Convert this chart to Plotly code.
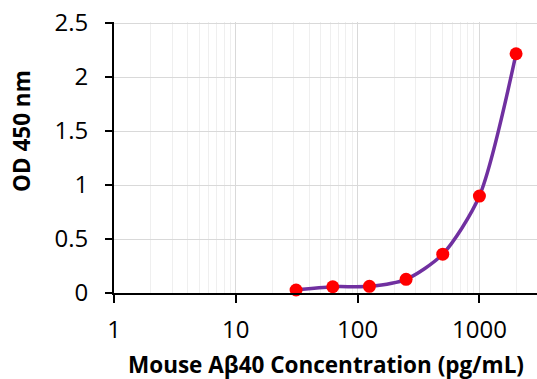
import plotly.graph_objects as go
import math

concentration = [31.25, 62.5, 125, 250, 500, 1000, 2000]
od450 = [0.028, 0.058, 0.062, 0.127, 0.36, 0.898, 2.216]

x_ticks = [1, 10, 100, 1000]
x_ticklabels = ["1", "10", "100", "1000"]
y_ticks = [0, 0.5, 1, 1.5, 2, 2.5]
y_ticklabels = ["0", "0.5", "1", "1.5", "2", "2.5"]

FONT = "Open Sans"
W, H = 537, 379
ML, MR, MT, MB = 114, 0, 22, 86
PH = H - MT - MB
PW = W - ML - MR
Y_TOP = 2.51

fig = go.Figure()
fig.add_trace(go.Scatter(
    x=concentration, y=od450, mode="lines",
    line=dict(color="#7030A0", width=3.5, shape="spline", smoothing=0.75),
    hoverinfo="skip", showlegend=False,
))
fig.add_trace(go.Scatter(
    x=concentration, y=od450, mode="markers",
    marker=dict(color="#FF0000", size=13, line=dict(width=0)),
    showlegend=False, cliponaxis=False,
))

fig.update_layout(
    width=W, height=H,
    margin=dict(l=ML, r=MR, t=MT, b=MB, autoexpand=False),
    paper_bgcolor="white", plot_bgcolor="white",
    font=dict(family=FONT, color="black"),
    xaxis=dict(
        type="log", range=[0, math.log10(2970)],
        tickvals=x_ticks, ticktext=x_ticklabels,
        tickfont=dict(size=24, family=FONT, color="black"),
        showgrid=True, gridcolor="#d9d9d9", gridwidth=1,
        minor=dict(dtick="D1", showgrid=True, gridcolor="#efefef", gridwidth=1, ticks=""),
        showline=True, linecolor="black", linewidth=2,
        ticks="outside", ticklen=8, tickwidth=2, tickcolor="black",
        ticklabelstandoff=6,
        zeroline=False, automargin=False,
    ),
    yaxis=dict(
        range=[0, Y_TOP],
        tickvals=y_ticks, ticktext=y_ticklabels,
        tickfont=dict(size=24, family=FONT, color="black"),
        showgrid=True, gridcolor="#d9d9d9", gridwidth=1,
        showline=True, linecolor="black", linewidth=2,
        ticks="outside", ticklen=7, tickwidth=2, tickcolor="black",
        ticklabelstandoff=12,
        zeroline=False, automargin=False,
    ),
    annotations=[
        dict(text="<b>Mouse Aβ40 Concentration (pg/mL)</b>", xref="paper", yref="paper",
             x=0.5, y=-(364 - 293) / PH, xanchor="center", yanchor="middle",
             showarrow=False, font=dict(size=22.5, family=FONT, color="black")),
        dict(text="<b>OD 450 nm</b>", xref="paper", yref="paper", textangle=-90,
             x=-(114 - 21) / PW, y=(293 - 131) / PH,
             xanchor="center", yanchor="middle",
             showarrow=False, font=dict(size=22.5, family=FONT, color="black")),
    ],
)

fig.write_html(
    "out.html",
    config={"displayModeBar": False},
    post_script="document.body.style.margin='0px';document.body.style.padding='0px';",
)
